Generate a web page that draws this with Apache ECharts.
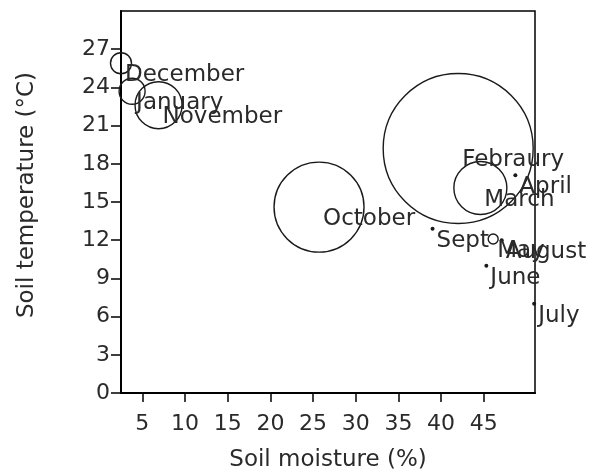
<!DOCTYPE html>
<html>
<head>
<meta charset="utf-8">
<title>Soil moisture vs soil temperature</title>
<script src="https://cdn.jsdelivr.net/npm/echarts@6/dist/echarts.min.js"></script>
<style>
  html, body { margin: 0; padding: 0; background: #fff; }
  #chart { width: 589px; height: 471px; }
</style>
</head>
<body>
<div id="chart"></div>
<script>
// Monthly soil readings: moisture (%), temperature (°C) and bubble magnitude
const months      = ['December', 'January', 'November', 'October', 'Febraury', 'March', 'April', 'Sept', 'May', 'August', 'June', 'July'];
const moisture    = [2.5, 3.8, 6.9, 25.7, 42.0, 44.6, 48.7, 39.0, 46.1, 47.1, 45.3, 50.9];
const temperature = [25.9, 23.7, 22.6, 14.6, 19.2, 16.1, 17.1, 12.9, 12.1, 12.0, 10.0, 7.0];
const magnitude   = [10.5, 13, 23.5, 45, 75, 26.5, 0, 0, 5, 0, 0, 0];

const xTicks = [5, 10, 15, 20, 25, 30, 35, 40, 45];
const yTicks = [0, 3, 6, 9, 12, 15, 18, 21, 24, 27];

const FONT = 'DejaVu Sans';
const TEXT = '#2a2a2a';

const bubbles = [];
const dots = [];
months.forEach((m, i) => {
  const item = { name: m, value: [moisture[i], temperature[i], magnitude[i]] };
  (magnitude[i] > 0 ? bubbles : dots).push(item);
});

const labelStyle = {
  show: true,
  position: 'inside',
  align: 'left',
  verticalAlign: 'middle',
  offset: [4, 12],
  formatter: p => p.name,
  color: TEXT,
  textBorderColor: 'transparent',
  textBorderWidth: 0,
  fontFamily: FONT,
  fontSize: 23
};

const chart = echarts.init(document.getElementById('chart'), null, { renderer: 'canvas' });
chart.setOption({
  animation: false,
  backgroundColor: '#fff',
  grid: {
    left: 121, right: 54, top: 11, bottom: 78,
    outerBoundsMode: 'none',
    containLabel: false,
    show: true, borderColor: '#000', borderWidth: 1.5, backgroundColor: 'transparent'
  },
  xAxis: {
    type: 'value',
    min: 2.5, max: 51,
    name: 'Soil moisture (%)',
    nameLocation: 'middle',
    nameGap: 56,
    nameTextStyle: { color: TEXT, fontFamily: FONT, fontSize: 23 },
    axisLine: { show: true, lineStyle: { color: '#000', width: 2 } },
    axisTick: { show: true, length: 9, customValues: xTicks, lineStyle: { color: '#000', width: 1.5 } },
    axisLabel: { customValues: xTicks, margin: 20, color: TEXT, fontFamily: FONT, fontSize: 22 },
    splitLine: { show: false }
  },
  yAxis: {
    type: 'value',
    min: 0, max: 30,
    name: 'Soil temperature (°C)',
    nameLocation: 'middle',
    nameGap: 82,
    nameTextStyle: { color: TEXT, fontFamily: FONT, fontSize: 23, padding: [0, 0, 0, 14] },
    axisLine: { show: true, lineStyle: { color: '#000', width: 2 } },
    axisTick: { show: true, length: 10, customValues: yTicks, lineStyle: { color: '#000', width: 1.5 } },
    axisLabel: { customValues: yTicks, margin: 11, color: TEXT, fontFamily: FONT, fontSize: 22 },
    splitLine: { show: false }
  },
  series: [
    {
      name: 'bubbles',
      type: 'scatter',
      data: bubbles,
      symbol: 'circle',
      symbolSize: v => v[2] * 2,
      itemStyle: { color: 'transparent', borderColor: '#1a1a1a', borderWidth: 1.4, opacity: 1 },
      label: labelStyle,
      emphasis: { disabled: true }
    },
    {
      name: 'dots',
      type: 'scatter',
      data: dots,
      symbol: 'circle',
      symbolSize: 4,
      itemStyle: { color: '#1a1a1a', opacity: 1 },
      label: labelStyle,
      emphasis: { disabled: true }
    }
  ]
});
</script>
</body>
</html>
